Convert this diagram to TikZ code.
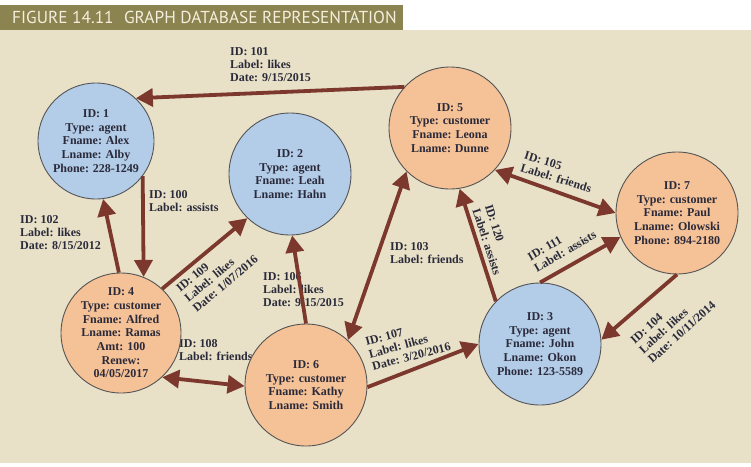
\documentclass[tikz,border=0pt]{standalone}
\usepackage{fontspec}
\setmainfont{Liberation Serif}
\newfontfamily\titlefont{PT Sans}
\usetikzlibrary{arrows.meta}

\definecolor{panel}{HTML}{E8E1C8}
\definecolor{titlebar}{HTML}{8B8350}
\definecolor{titletext}{HTML}{F4EFDC}
\definecolor{agentfill}{HTML}{B3CCE8}
\definecolor{custfill}{HTML}{F5C196}
\definecolor{rim}{HTML}{555555}
\definecolor{edgecol}{HTML}{7C382D}
\definecolor{ink}{HTML}{2A2A3A}

\tikzset{
  entity/.style={circle, draw=rim, line width=0.9pt, minimum size=122pt, inner sep=0pt},
  agent/.style={entity, fill=agentfill},
  customer/.style={entity, fill=custfill},
  nodetext/.style={align=center, text=ink, inner sep=0pt,
    font=\bfseries\fontsize{12}{13.7}\selectfont},
  edgelabel/.style={align=left, text=ink, inner sep=0pt,
    font=\bfseries\fontsize{12}{13}\selectfont},
  rel/.style={draw=edgecol, line width=3.8pt, -{Triangle[length=17pt,width=18pt]}},
  mutual/.style={draw=edgecol, line width=3.8pt,
    {Triangle[length=17pt,width=18pt]}-{Triangle[length=17pt,width=18pt]}},
}

\begin{document}
\begin{tikzpicture}[x=1pt, y=-1pt]
  \useasboundingbox (0,0) rectangle (751,466);
  \fill[white] (0,0) rectangle (751,466);
  % panel and caption bar
  \fill[panel] (0,29.5) rectangle (751,463);
  \fill[titlebar] (0,5) rectangle (403,29.5);
  \node[anchor=west, inner sep=0pt, text=titletext,
        font=\titlefont\fontsize{17.3}{19}\selectfont] (title) at (12,17.5)
        {FIGURE 14.11\hspace{0.6em}GRAPH DATABASE REPRESENTATION};

  % relationship labels
  \node[edgelabel, anchor=west] (l101) at (230,65) {ID: 101\\Label: likes\\Date: 9/15/2015};
  \node[edgelabel, anchor=west] (l100) at (149,201.5) {ID: 100\\Label: assists};
  \node[edgelabel, anchor=west] (l102) at (20,233) {ID: 102\\Label: likes\\Date: 8/15/2012};
  \node[edgelabel, anchor=west] (l108) at (179,350.5) {ID: 108\\Label: friends};
  \node[edgelabel, anchor=west] (l106) at (263,290) {ID: 106\\Label: likes\\Date: 9/15/2015};
  \node[edgelabel, anchor=west] (l103) at (390,253.5) {ID: 103\\Label: friends};
  \node[edgelabel, rotate=40] (l109) at (217,274) {ID: 109\\Label: likes\\Date: 1/07/2016};
  \node[edgelabel, rotate=15] (l107) at (408,344) {ID: 107\\Label: likes\\Date: 3/20/2016};
  \node[edgelabel, rotate=-72] (l120) at (493,240) {ID: 120\\Label: assists};
  \node[edgelabel, rotate=-17] (l105) at (558,172) {ID: 105\\Label: friends};
  \node[edgelabel, rotate=30] (l111) at (562,246) {ID: 111\\Label: assists};
  \node[edgelabel, rotate=42] (l104) at (673,322.5) {ID: 104\\Label: likes\\Date: 10/11/2014};

  % entities
  \node[agent, minimum size=116pt] (n1) at (96,141) {};
  \node[agent] (n2) at (290,174) {};
  \node[agent] (n3) at (540,344) {};
  \node[customer, minimum size=120pt] (n4) at (121,333) {};
  \node[customer] (n5) at (450,128) {};
  \node[customer] (n6) at (306,385) {};
  \node[customer] (n7) at (677,213) {};

  \node[nodetext] (t1) at (n1) {ID: 1\\Type: agent\\Fname: Alex\\Lname: Alby\\Phone: 228-1249};
  \node[nodetext] (t2) at (n2) {ID: 2\\Type: agent\\Fname: Leah\\Lname: Hahn};
  \node[nodetext] (t3) at (n3) {ID: 3\\Type: agent\\Fname: John\\Lname: Okon\\Phone: 123-5589};
  \node[nodetext] (t4) at (n4) {ID: 4\\Type: customer\\Fname: Alfred\\Lname: Ramas\\Amt: 100\\Renew:\\04/05/2017};
  \node[nodetext] (t5) at (n5) {ID: 5\\Type: customer\\Fname: Leona\\Lname: Dunne};
  \node[nodetext] (t6) at (n6) {ID: 6\\Type: customer\\Fname: Kathy\\Lname: Smith};
  \node[nodetext] (t7) at (n7) {ID: 7\\Type: customer\\Fname: Paul\\Lname: Olowski\\Phone: 894-2180};

  % relationships
  \draw[rel] (n5.138) -- (n1.47);
  \draw[rel] (n1.-37) -- (n4.68);
  \draw[rel] (n4.92) -- (n1.-83);
  \draw[rel] (n4.47) -- (n2.226);
  \draw[mutual] (n4.-47) -- (n6.181);
  \draw[rel] (n6.90) -- (n2.-88);
  \draw[mutual] (n6.47) -- (n5.225);
  \draw[rel] (n6.-2) -- (n3.180);
  \draw[rel] (n3.136) -- (n5.-81);
  \draw[mutual] (n5.-43) -- (n7.180);
  \draw[rel] (n3.90) -- (n7.203);
  \draw[rel] (n7.-90) -- (n3.4);
\end{tikzpicture}
\end{document}
